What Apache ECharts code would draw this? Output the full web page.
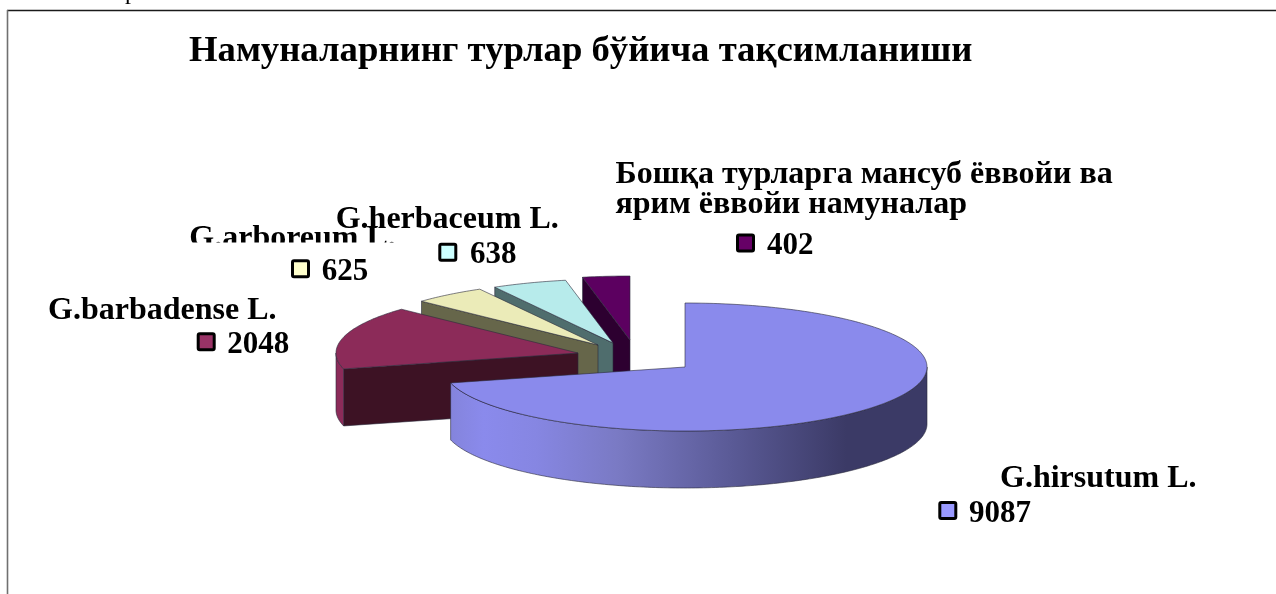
<!DOCTYPE html>
<html>
<head>
<meta charset="utf-8">
<style>html,body{margin:0;padding:0;background:#fff}#c{width:1276px;height:594px}</style>
<script src="https://cdn.jsdelivr.net/npm/echarts@6/dist/echarts.min.js"></script>
</head>
<body>
<div id="c"></div>
<script>
const chartTitle = 'Намуналарнинг турлар бўйича тақсимланиши';
const categories = ['G.hirsutum L.', 'G.barbadense L.', 'G.arboreum L.', 'G.herbaceum L.', 'Бошқа турларга мансуб ёввойи ва\nярим ёввойи намуналар'];
const values = [9087, 2048, 625, 638, 402];
const topColors = ['#8a8aec', '#8c2b59', '#ebebb8', '#b7ebeb', '#5c0060'];
const sideColors = ['#3b3a66', '#3d1224', '#66664a', '#4f6d6d', '#2d0030'];
const keyColors = ['#9999ff', '#993366', '#ffffcc', '#ccffff', '#660066'];

// Projection of the 3D pie and where each exploded slice's apex sits
const RX = 242, RY = 64, DEPTH = 57;
const apexes = [[685, 367], [578, 353], [598, 345], [613, 343], [630, 340]];
// Label layout: name x/baseline, value x/baseline, key x/y
const labelPos = [
  { nx: 1000, ny: 488, vx: 969, vy: 522.5, kx: 939.8, ky: 502.5 },
  { nx: 48, ny: 320, vx: 227.3, vy: 354, kx: 198.2, ky: 333.8 },
  { nx: 189.3, ny: 248, vx: 321.7, vy: 281, kx: 292.5, ky: 260.8 },
  { nx: 335.7, ny: 229, vx: 470, vy: 264, kx: 439.8, ky: 244.2 },
  { nx: 615.5, ny: 183.4, vx: 767, vy: 255, kx: 737.5, ky: 234.9 }
];

const total = values.reduce((a, b) => a + b, 0);
const starts = [];
values.reduce((acc, v, i) => { starts[i] = acc; return acc + v; }, 0);
const toRad = v => v / total * Math.PI * 2;

function rim(apex, ang, down) {
  return [apex[0] + RX * Math.sin(ang), apex[1] - RY * Math.cos(ang) + (down || 0)];
}
function arcPts(apex, a0, a1, down) {
  const n = Math.max(2, Math.ceil(Math.abs(a1 - a0) * 60));
  const pts = [];
  for (let i = 0; i <= n; i++) pts.push(rim(apex, a0 + (a1 - a0) * i / n, down));
  return pts;
}
const edge = { stroke: '#2a2a3a', lineWidth: 0.6 };

function renderSlice(params, api) {
  const idx = api.value(0);
  const value = api.value(1);
  const apex = apexes[idx];
  const a0 = toRad(starts[idx]);
  const a1 = a0 + toRad(value);
  const z = 10 * (5 - idx);
  const children = [];
  // Cut face at the start angle, seen from the front when the slice is in the back half
  if (idx > 0) {
    const p = rim(apex, a0);
    children.push({
      type: 'polygon', z2: z,
      shape: { points: [apex, p, [p[0], p[1] + DEPTH], [apex[0], apex[1] + DEPTH]] },
      style: { fill: sideColors[idx], ...edge }
    });
  }
  // Outer rim: only the part on the viewer's side (90deg..270deg clockwise from top)
  const vis0 = Math.max(a0, Math.PI / 2), vis1 = Math.min(a1, Math.PI * 1.5);
  if (vis1 > vis0) {
    const upper = arcPts(apex, vis0, vis1, 0);
    const lower = arcPts(apex, vis0, vis1, DEPTH).reverse();
    const fill = idx === 0
      ? new echarts.graphic.LinearGradient(0, 0, 1, 0, [
          { offset: 0, color: '#8484dc' }, { offset: 0.07, color: '#8a8aec' },
          { offset: 0.18, color: '#8686e2' }, { offset: 0.35, color: '#7a7ac4' },
          { offset: 0.59, color: '#5a5a96' }, { offset: 0.83, color: '#3b3a66' },
          { offset: 1, color: '#3b3a66' }])
      : topColors[idx];
    children.push({
      type: 'polygon', z2: z + 1,
      shape: { points: upper.concat(lower) },
      style: { fill: fill, ...edge }
    });
  }
  // Top face
  children.push({
    type: 'polygon', z2: z + 2,
    shape: { points: [apex].concat(arcPts(apex, a0, a1, 0)) },
    style: { fill: topColors[idx], ...edge }
  });
  return { type: 'group', children };
}

const serif = '"Liberation Serif", "Times New Roman", serif';
// Places text by the baseline of its first line
function textEl(text, x, baseline, size, lineHeight) {
  const lines = text.split('\n').length;
  const lh = lineHeight || Math.round(size * 1.15);
  return {
    type: 'text', x: x, y: baseline - 0.28 * size + (lines - 1) * lh / 2,
    style: { text, fill: '#000', font: 'bold ' + size + 'px ' + serif, verticalAlign: 'middle', align: 'left', lineHeight: lh }
  };
}

const labelFont = 32;
const graphics = [
  // Page frame (open on the right and bottom)
  { type: 'line', shape: { x1: 7, y1: 10.5, x2: 1276, y2: 10.5 }, style: { stroke: '#1a1a1a', lineWidth: 1.4 } },
  { type: 'line', shape: { x1: 7.5, y1: 10, x2: 7.5, y2: 594 }, style: { stroke: '#707070', lineWidth: 1.6 } },
  // Descender of a line of body text cut off by the top of the page
  { type: 'text', x: 125, y: -19.5, style: { text: 'р', fill: '#000', font: '24px ' + serif } },
  textEl(chartTitle, 189, 62, 36.7),
  // arboreum label is cut off by the herbaceum label's white box
  textEl(categories[2], labelPos[2].nx, labelPos[2].ny, labelFont),
  { type: 'rect', shape: { x: 180, y: 242.5, width: 220, height: 15 }, style: { fill: '#fff' } }
];
categories.forEach((name, i) => {
  const p = labelPos[i];
  if (i !== 2) graphics.push(textEl(name, p.nx, p.ny, labelFont, i === 4 ? 30 : 0));
  graphics.push(textEl(String(values[i]), p.vx, p.vy, 31));
  graphics.push({ type: 'rect', shape: { x: p.kx, y: p.ky, width: 16, height: 16, r: 1.5 }, style: { fill: keyColors[i], stroke: '#000', lineWidth: 3 } });
});

const chart = echarts.init(document.getElementById('c'), null, { renderer: 'canvas' });
chart.setOption({
  animation: false,
  backgroundColor: '#fff',
  graphic: { elements: graphics },
  series: [{
    type: 'custom',
    coordinateSystem: 'none',
    renderItem: renderSlice,
    silent: true,
    encode: { value: 1 },
    data: values.map((v, i) => [i, v, categories[i]])
  }]
});
</script>
</body>
</html>
